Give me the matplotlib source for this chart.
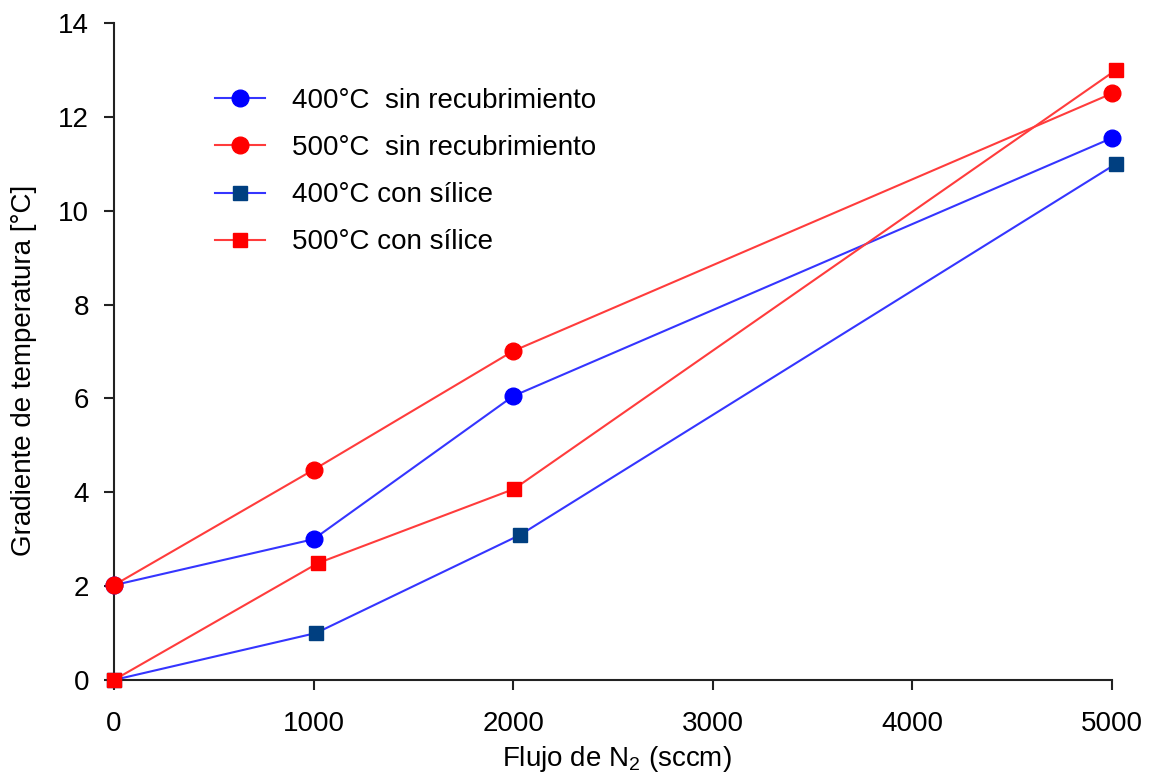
import matplotlib
matplotlib.use('agg')
import matplotlib.pyplot as plt

plt.rcParams['font.family'] = ['Liberation Sans', 'DejaVu Sans']

# data
flujo_circ = [0, 1000, 2000, 5000]
g400_sin = [2.02, 3.0, 6.05, 11.55]
g500_sin = [2.02, 4.48, 7.01, 12.5]

flujo_400_sil = [0, 1012, 2034, 5020]
g400_sil = [0.0, 1.0, 3.09, 11.0]
flujo_500_sil = [0, 1022, 2004, 5020]
g500_sil = [0.0, 2.49, 4.07, 13.0]

labels = ['400°C  sin recubrimiento', '500°C  sin recubrimiento',
          '400°C con sílice', '500°C con sílice']
xticks = [0, 1000, 2000, 3000, 4000, 5000]
yticks = [0, 2, 4, 6, 8, 10, 12, 14]

fig = plt.figure(figsize=(11.58, 7.78), dpi=100)
ax = fig.add_axes([0.0984, 0.126, 0.8619, 0.8444])

blue_line = '#3535ff'
red_line = '#ff3c3c'

ax.plot(flujo_circ, g400_sin, color=blue_line, lw=1.5, marker='o', ms=12,
        mfc='#0000ff', mec='#0000ff', clip_on=False, label=labels[0], zorder=3)
ax.plot(flujo_circ, g500_sin, color=red_line, lw=1.5, marker='o', ms=12,
        mfc='#ff0000', mec='#ff0000', clip_on=False, label=labels[1], zorder=3)
ax.plot(flujo_400_sil, g400_sil, color=blue_line, lw=1.5, marker='s', ms=9.5,
        mfc='#003f80', mec='#003f80', clip_on=False, label=labels[2], zorder=3)
ax.plot(flujo_500_sil, g500_sil, color=red_line, lw=1.5, marker='s', ms=9.5,
        mfc='#ff0000', mec='#ff0000', clip_on=False, label=labels[3], zorder=3)

ax.set_xlim(0, 5000)
ax.set_ylim(0, 14)

ax.spines['top'].set_visible(False)
ax.spines['right'].set_visible(False)
for s in ('left', 'bottom'):
    ax.spines[s].set_linewidth(1.5)
    ax.spines[s].set_color('#222222')

ax.set_xticks(xticks)
ax.set_yticks(yticks)
ax.tick_params(axis='both', direction='out', length=7, width=1.5, color='#222222')
ax.tick_params(axis='y', pad=11, labelsize=20)
ax.tick_params(axis='x', pad=15, labelsize=20)

ax.set_xlabel(r'Flujo de N$_\mathregular{2}$ (sccm)', fontsize=20)
ax.set_ylabel('Gradiente de temperatura [°C]', fontsize=20)
ax.xaxis.set_label_coords(0.504, -0.098)
ax.yaxis.set_label_coords(-0.077, 0.472)

leg = ax.legend(loc='upper left', bbox_to_anchor=(0.101, 0.901), frameon=False,
                fontsize=20, handlelength=1.8, handletextpad=0.97,
                labelspacing=0.76, borderpad=0, borderaxespad=0)

fig.savefig('out.png', dpi=100)
plt.close()
